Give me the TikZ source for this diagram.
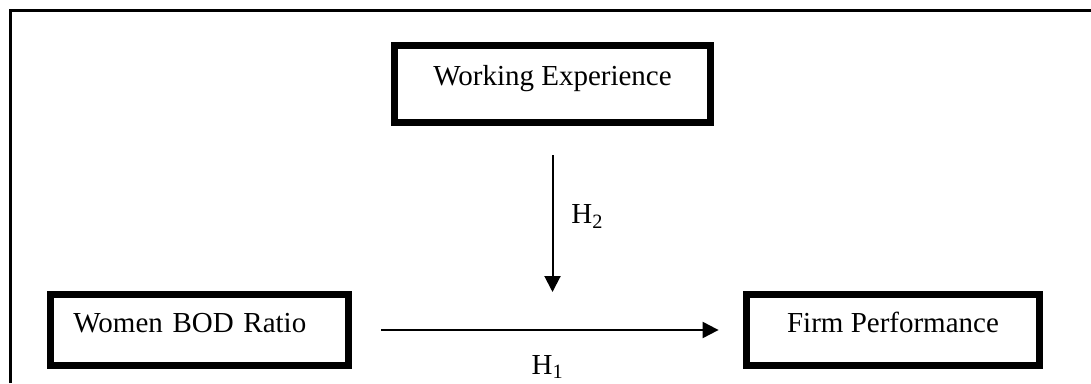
\documentclass[tikz,border=0pt]{standalone}
\usepackage{fontspec}
\setmainfont{Liberation Serif}
\usetikzlibrary{arrows.meta}

\tikzset{
  varbox/.style={draw, line width=6.8pt, minimum height=71.2pt, inner sep=0pt,
    text height=20pt, text depth=16pt, font=\fontsize{29}{34}\selectfont},
  link/.style={line width=2pt, -{Triangle[length=16pt, width=16pt]}},
  hyp/.style={font=\fontsize{29}{34}\selectfont}
}

\begin{document}
\begin{tikzpicture}[x=1pt, y=1pt]
    \useasboundingbox (0,0) rectangle (1091,383);

    % Frame
    \draw[line width=2.5pt] (10.5,0) -- (10.5,372.3) -- (1091,372.3);

    % Variables
    \node[varbox, text width=252.2pt, align=left, inner xsep=23pt] (women) at (199.5,53) {Women BOD Ratio};
    \node[varbox, minimum width=316.2pt, minimum height=77.2pt] (work) at (552.5,299) {Working Experience};
    \node[varbox, minimum width=293.2pt] (firm) at (893,53) {Firm Performance};
    \coordinate (meet) at (552.5,91);

    % Hypotheses
    \draw[link, shorten <=29.4pt, shorten >=24.4pt] (women) -- (firm)
        node[midway, anchor=base, yshift=-44pt, hyp] {H\textsubscript{1}};
    \draw[link, shorten <=29.4pt] (work.south) -- (meet)
        node[pos=0.59, anchor=base west, xshift=14.5pt, hyp] {H\textsubscript{2}};
\end{tikzpicture}
\end{document}
